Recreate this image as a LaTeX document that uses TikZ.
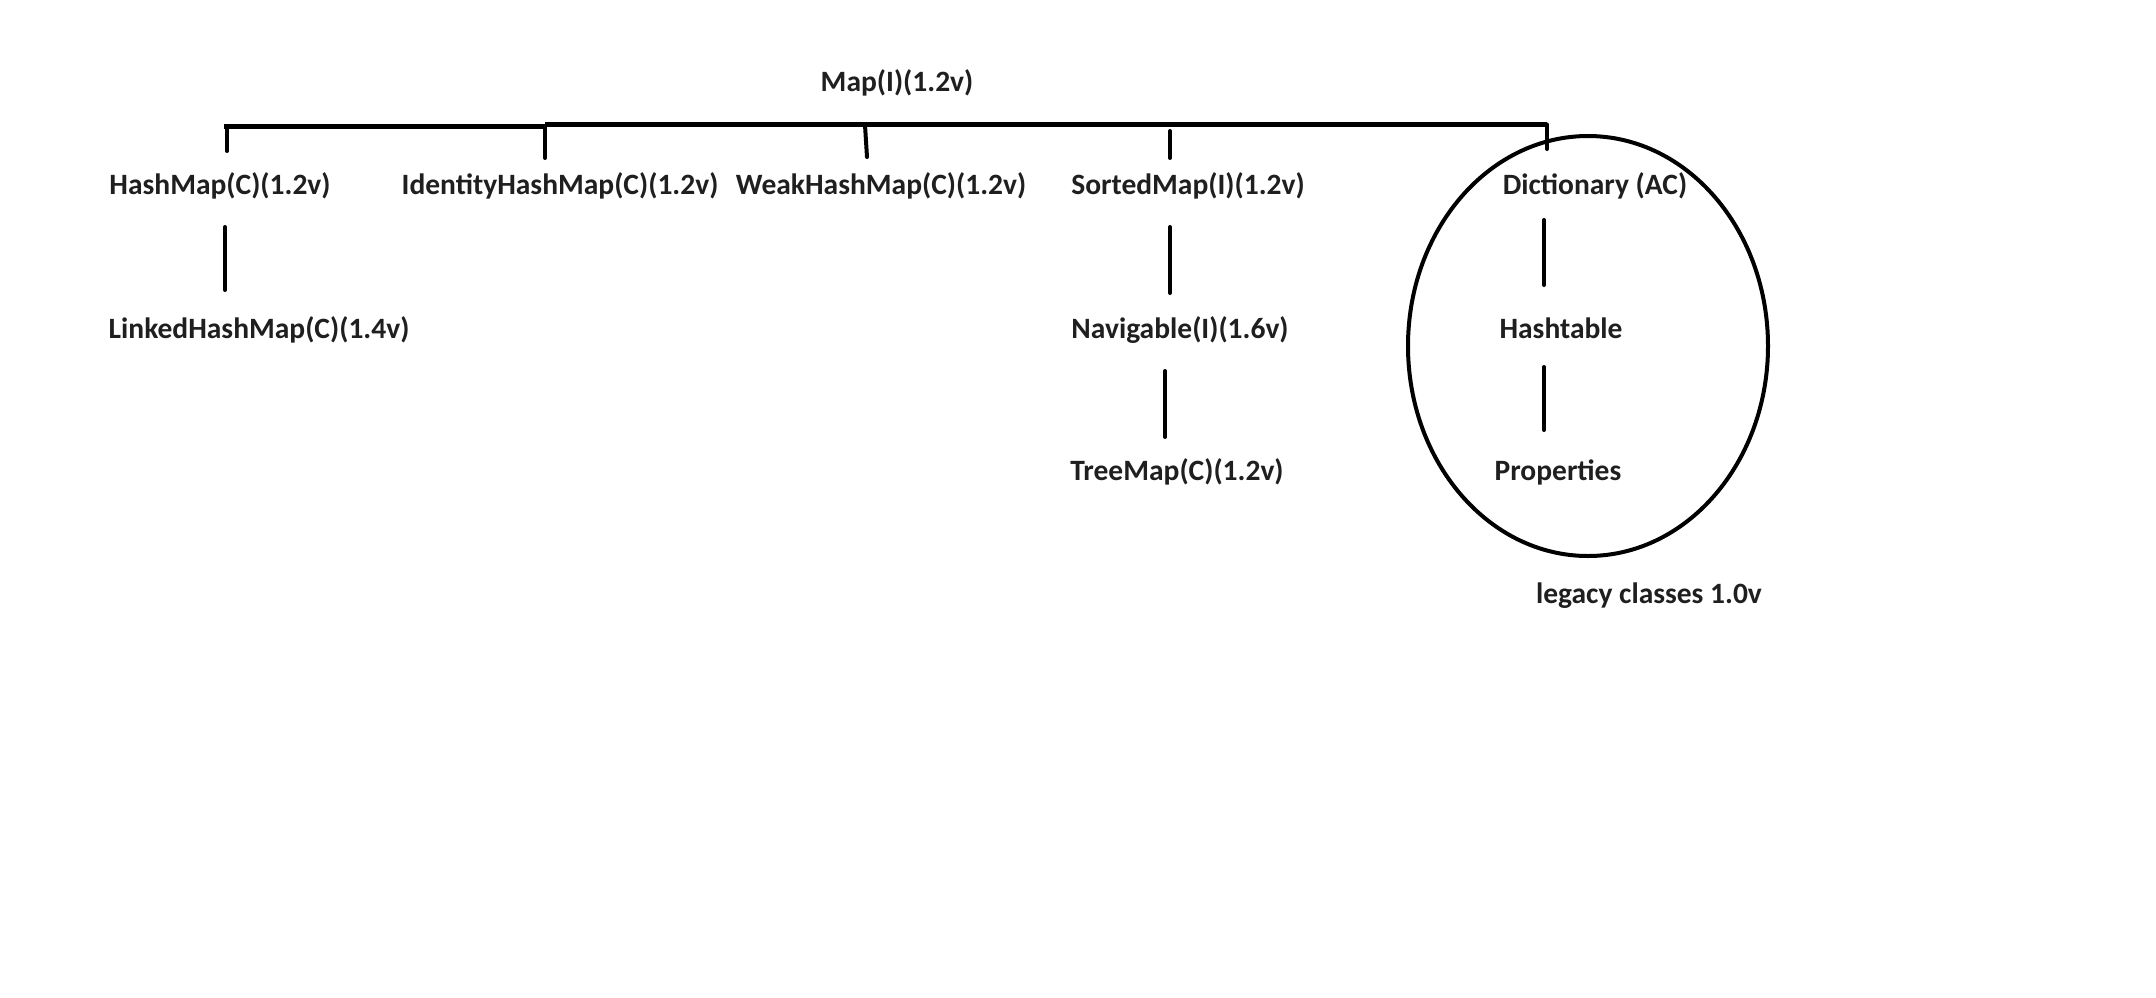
\documentclass[tikz,border=0pt]{standalone}
\usepackage{fontspec}
\setmainfont{Carlito}
\usetikzlibrary{calc}
\begin{document}
\begin{tikzpicture}[x=1pt,y=-1pt,
  cls/.style={font=\fontsize{29.5}{31}\selectfont\bfseries, text=black!88, inner sep=0pt},
  link/.style={line width=4pt, line cap=round},
  bar/.style={line width=5.5pt},
  ring/.style={line width=4pt}]
\useasboundingbox[fill=white] (0,0) rectangle (2156,997);

% class and interface names
\node[cls] (map)   at (897,83)   {Map(I)(1.2v)};
\node[cls] (hm)    at (220,186)  {HashMap(C)(1.2v)};
\node[cls] (ihm)   at (560,186)  {IdentityHashMap(C)(1.2v)};
\node[cls] (whm)   at (881,186)  {WeakHashMap(C)(1.2v)};
\node[cls] (sm)    at (1188,186) {SortedMap(I)(1.2v)};
\node[cls] (dict)  at (1595,186) {Dictionary (AC)};
\node[cls] (lhm)   at (259,330)  {LinkedHashMap(C)(1.4v)};
\node[cls] (nav)   at (1180,330) {Navigable(I)(1.6v)};
\node[cls] (tm)    at (1177,472) {TreeMap(C)(1.2v)};
\node[cls] (ht)    at (1561,328) {Hashtable};
\node[cls] (props) at (1558,472) {Properties};
\node[cls] (leg)   at (1649,596) {legacy classes 1.0v};

% legacy group
\draw[ring] (1588,346) ellipse [x radius=180, y radius=210];

% branch bar under Map
\coordinate (bl) at (224,126.5);
\coordinate (bm) at (545,126.5);
\coordinate (bn) at (545,124.5);
\coordinate (br) at (1547,124.5);
\draw[bar] (bl) -- (bm);
\draw[bar] (bn) -- (br);

% drops from the bar
\draw[link] (227,126) -- (227,151);
\draw[link] (bm) -- (545,158);
\draw[link] (865,125) -- (867,157);
\draw[link] (1170,131) -- (1170,158);
\draw[link] (br) -- (1547,149);

% vertical connectors between levels
\draw[link] ([yshift=-41pt]hm.center -| 225,0) -- ([yshift=40pt]lhm.center -| 225,0);
\draw[link] ([yshift=-41pt]sm.center -| 1170,0) -- ([yshift=37pt]nav.center -| 1170,0);
\draw[link] ([yshift=-41pt]nav.center -| 1165,0) -- ([yshift=35pt]tm.center -| 1165,0);
\draw[link] ([yshift=-34pt]dict.center -| 1544,0) -- ([yshift=43pt]ht.center -| 1544,0);
\draw[link] ([yshift=-39pt]ht.center -| 1544,0) -- ([yshift=42pt]props.center -| 1544,0);
\end{tikzpicture}
\end{document}
